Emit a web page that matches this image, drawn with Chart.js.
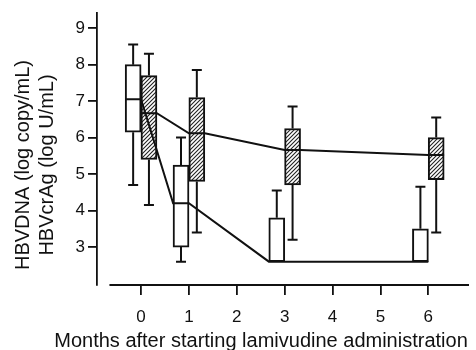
<!DOCTYPE html>
<html lang="en">
<head>
<meta charset="UTF-8">
<title>HBVDNA and HBVcrAg after lamivudine</title>
<script src="https://cdn.jsdelivr.net/npm/chart.js"></script>
<style>
  html, body { margin: 0; padding: 0; background: #fff; }
  #wrap { width: 476px; height: 350px; }
</style>
</head>
<body>
<div id="wrap"><canvas id="chart"></canvas></div>
<script>
// months where boxes are drawn
const months = [0, 1, 3, 6];

// HBV DNA (open boxes)
const dnaMin = [4.7, 2.6, 2.6, 2.6];
const dnaQ1  = [6.15, 3.0, 2.6, 2.6];
const dnaMed = [7.05, 4.2, 2.6, 2.6];
const dnaQ3  = [8.0, 5.25, 3.8, 3.5];
const dnaMax = [8.55, 6.0, 4.55, 4.65];

// HBVcrAg (hatched boxes)
const agMin = [4.15, 3.4, 3.2, 3.4];
const agQ1  = [5.4, 4.8, 4.7, 4.85];
const agMed = [6.67, 6.12, 5.66, 5.52];
const agQ3  = [7.7, 7.1, 6.25, 6.0];
const agMax = [8.3, 7.85, 6.85, 6.55];

const xTicks = [0, 1, 2, 3, 4, 5, 6];
const yTicks = [3, 4, 5, 6, 7, 8, 9];

const INK = '#111';
const FONT = '"Liberation Sans", Arial, Helvetica, sans-serif';
const boxW = 0.33; // box width in months

function hatch() {
    const s = 4;
    const c = document.createElement('canvas');
    c.width = s; c.height = s;
    const g = c.getContext('2d');
    g.fillStyle = '#fff';
    g.fillRect(0, 0, s, s);
    g.strokeStyle = '#222';
    g.lineWidth = 1.1;
    g.beginPath();
    g.moveTo(0, s); g.lineTo(s, 0);
    g.moveTo(-1, 1); g.lineTo(1, -1);
    g.moveTo(s - 1, s + 1); g.lineTo(s + 1, s - 1);
    g.stroke();
    return g.createPattern(c, 'repeat');
}

// offsets: DNA box left of the tick, crAg box right of it
const dnaX = months.map(m => m - boxW / 2);
const agX = months.map(m => m + boxW / 2);

function whiskers(xs, q1, q3, lo, hi) {
    const pts = [];
    xs.forEach((x, i) => {
        pts.push({x: x, y: q3[i]}, {x: x, y: hi[i]}, {x: x, y: null});
        if (lo[i] < q1[i]) pts.push({x: x, y: q1[i]}, {x: x, y: lo[i]}, {x: x, y: null});
    });
    return pts;
}

function caps(xs, q1, lo, hi) {
    const pts = [];
    xs.forEach((x, i) => {
        pts.push({x: x, y: hi[i]});
        if (lo[i] < q1[i]) pts.push({x: x, y: lo[i]});
    });
    return pts;
}

function medianLine(xs, med) {
    const pts = [];
    xs.forEach((x, i) => {
        pts.push({x: x - boxW / 2, y: med[i]}, {x: x + boxW / 2, y: med[i]});
    });
    return pts;
}

const boxBase = {
    type: 'bar',
    borderColor: INK,
    borderWidth: 2,
    borderSkipped: false,
    barThickness: 16,
    grouped: false,
    order: 1
};
const whiskerBase = {
    type: 'line',
    borderColor: INK,
    borderWidth: 2,
    pointRadius: 0,
    spanGaps: false,
    order: 2
};
const capBase = {
    type: 'line',
    showLine: false,
    pointStyle: 'line',
    pointRadius: 5,
    pointBorderWidth: 2,
    pointBorderColor: INK,
    order: 2
};
const lineBase = {
    type: 'line',
    borderColor: INK,
    borderWidth: 2,
    pointRadius: 0,
    tension: 0,
    order: 0
};

const axisPlugin = {
    id: 'axisExtras',
    afterDraw(chart) {
        const {ctx, chartArea, scales} = chart;
        ctx.save();
        // detached x axis line
        ctx.strokeStyle = INK;
        ctx.lineWidth = 1.8;
        ctx.beginPath();
        ctx.moveTo(scales.x.getPixelForValue(-0.66), chartArea.bottom);
        ctx.lineTo(chartArea.right, chartArea.bottom);
        ctx.stroke();

        ctx.fillStyle = INK;
        ctx.textAlign = 'center';
        ctx.textBaseline = 'middle';
        ctx.font = '20px ' + FONT;
        ctx.fillText('Months after starting lamivudine administration', 261, 341);

        ctx.translate(0, 165);
        ctx.rotate(-Math.PI / 2);
        ctx.fillText('HBVDNA (log copy/mL)', 0, 23);
        ctx.fillText('HBVcrAg (log U/mL)', 0, 47);
        ctx.restore();
    }
};

new Chart(document.getElementById('chart'), {
    type: 'bar',
    data: {
        datasets: [
            Object.assign({}, lineBase, {data: medianLine(dnaX, dnaMed)}),
            Object.assign({}, lineBase, {data: medianLine(agX, agMed)}),
            Object.assign({}, boxBase, {
                backgroundColor: '#fff',
                data: dnaX.map((x, i) => ({x: x, y: [dnaQ1[i], dnaQ3[i]]}))
            }),
            Object.assign({}, boxBase, {
                backgroundColor: hatch(),
                data: agX.map((x, i) => ({x: x, y: [agQ1[i], agQ3[i]]}))
            }),
            Object.assign({}, whiskerBase, {data: whiskers(dnaX, dnaQ1, dnaQ3, dnaMin, dnaMax)}),
            Object.assign({}, whiskerBase, {data: whiskers(agX, agQ1, agQ3, agMin, agMax)}),
            Object.assign({}, capBase, {data: caps(dnaX, dnaQ1, dnaMin, dnaMax)}),
            Object.assign({}, capBase, {data: caps(agX, agQ1, agMin, agMax)})
        ]
    },
    options: {
        responsive: true,
        maintainAspectRatio: false,
        animation: false,
        events: [],
        layout: {padding: {top: 13, right: 0, left: 0, bottom: 0}},
        plugins: {legend: {display: false}, tooltip: {enabled: false}},
        scales: {
            x: {
                type: 'linear',
                min: -0.92,
                max: 6.85,
                offset: false,
                border: {display: false},
                grid: {drawOnChartArea: false, drawTicks: true, tickLength: 10, color: INK, lineWidth: 1.8, offset: false},
                ticks: {color: INK, font: {family: FONT, size: 17}, padding: 12, maxRotation: 0},
                afterBuildTicks: s => { s.ticks = xTicks.map(v => ({value: v})); },
                afterFit: s => { s.height = 65; }
            },
            y: {
                min: 1.96,
                max: 9.41,
                border: {display: true, color: INK, width: 1.8},
                grid: {drawOnChartArea: false, drawTicks: true, tickLength: 9, color: INK, lineWidth: 1.8},
                ticks: {color: INK, font: {family: FONT, size: 17}, padding: 3},
                afterBuildTicks: s => { s.ticks = yTicks.map(v => ({value: v})); },
                afterFit: s => { s.width = 97; }
            }
        }
    },
    plugins: [axisPlugin]
});
</script>
</body>
</html>
